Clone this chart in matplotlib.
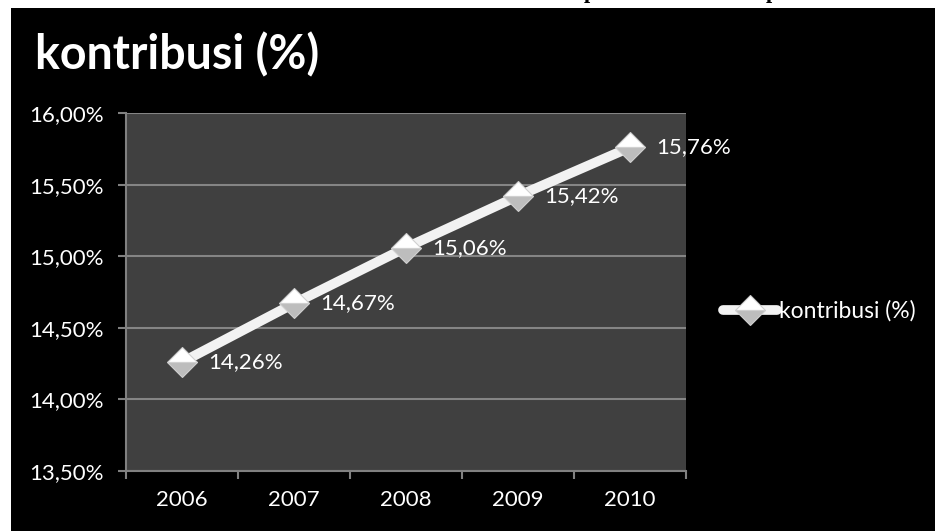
import matplotlib.pyplot as plt
import matplotlib.patches as patches
from matplotlib.ticker import FixedLocator

years = ["2006", "2007", "2008", "2009", "2010"]
kontribusi = [14.26, 14.67, 15.06, 15.42, 15.76]
y_ticks = [13.5, 14.0, 14.5, 15.0, 15.5, 16.0]
series_name = "kontribusi (%)"

plt.rcParams['font.family'] = ['Lato', 'DejaVu Sans']

W, H = 935, 531
fig = plt.figure(figsize=(W / 100, H / 100), dpi=100, facecolor='white')

# black slide background, white strip at top and left
fig.patches.append(patches.Rectangle((11 / W, 0), 1, (H - 8) / H,
                                     transform=fig.transFigure,
                                     facecolor='black', edgecolor='none', zorder=-5))

# cut-off header text above the chart (only descenders visible)
for xp in [590, 772]:
    fig.text(xp / W, 1 + 2 / H, "p", color='black', fontsize=16, fontweight='bold',
             family='Liberation Serif', ha='center', va='baseline')

ax = fig.add_axes([126 / W, (H - 471) / H, 560 / W, 358 / H])
ax.set_zorder(2)
ax.set_facecolor('#404040')

x = list(range(len(years)))
ax.plot(x, kontribusi, color='#f2f2f2', linewidth=7, solid_capstyle='round',
        marker='D', markersize=15, fillstyle='top',
        markerfacecolor='white', markerfacecoloralt='#bdbdbd',
        markeredgecolor='#d0d0d0', markeredgewidth=0.8, label=series_name, zorder=3)

for xi, v in zip(x, kontribusi):
    ax.annotate(f"{v:.2f}%".replace('.', ','), (xi, v), xytext=(19, 0),
                textcoords='offset points', color='white', fontsize=16,
                ha='left', va='center', zorder=4)

ax.set_xlim(-0.5, len(years) - 0.5)
ax.set_ylim(13.5, 16.0)
ax.set_xticks(x)
ax.set_xticklabels(years)
ax.xaxis.set_minor_locator(FixedLocator([i - 0.5 for i in range(len(years) + 1)]))
ax.tick_params(axis='x', which='major', length=0, pad=14, colors='white', labelsize=16)
ax.tick_params(axis='x', which='minor', length=6, width=1.5, color='#808080')

ax.set_yticks(y_ticks)
ax.set_yticklabels([f"{t:.2f}%".replace('.', ',') for t in y_ticks])
ax.tick_params(axis='y', length=6, width=1.5, color='#808080', labelcolor='white',
               labelsize=16, pad=10)

ax.grid(axis='y', color='#858585', linewidth=1.5)
ax.set_axisbelow(True)
for s in ['top', 'right']:
    ax.spines[s].set_visible(False)
for s in ['left', 'bottom']:
    ax.spines[s].set_color('#808080')
    ax.spines[s].set_linewidth(1.5)

fig.text(35 / W, 1 - 55 / H, series_name, color='white', fontsize=33.5,
         fontweight='bold', ha='left', va='center')

leg = fig.legend(loc='center left', bbox_to_anchor=(723 / W, 1 - 311 / H),
                 frameon=False, handlelength=2.35, handletextpad=0.1,
                 borderpad=0, borderaxespad=0,
                 numpoints=1, fontsize=16.5, labelcolor='white')

fig.savefig('out.png', dpi=100, facecolor=fig.get_facecolor())
